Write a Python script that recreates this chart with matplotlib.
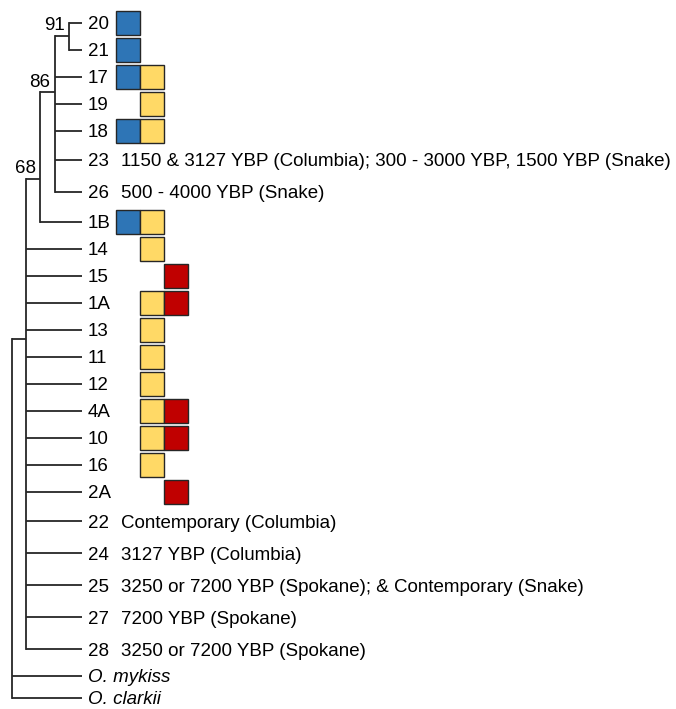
import matplotlib.pyplot as plt
from matplotlib.patches import Rectangle

plt.rcParams["font.family"] = ["Liberation Sans", "DejaVu Sans"]

# tips, top to bottom
TIPS = ["20", "21", "17", "19", "18", "23", "26", "1B", "14", "15", "1A",
        "13", "11", "12", "4A", "10", "16", "2A", "22", "24", "25", "27",
        "28", "O. mykiss", "O. clarkii"]
OUTGROUPS = ["O. mykiss", "O. clarkii"]

# presence columns
BLUE = ["20", "21", "17", "18", "1B"]
YELLOW = ["17", "19", "18", "1B", "14", "1A", "13", "11", "12", "4A", "10", "16"]
RED = ["15", "1A", "4A", "10", "2A"]

NOTES = {
    "23": "1150 & 3127 YBP (Columbia); 300 - 3000 YBP, 1500 YBP (Snake)",
    "26": "500 - 4000 YBP (Snake)",
    "22": "Contemporary (Columbia)",
    "24": "3127 YBP (Columbia)",
    "25": "3250 or 7200 YBP (Spokane); & Contemporary (Snake)",
    "27": "7200 YBP (Spokane)",
    "28": "3250 or 7200 YBP (Spokane)",
}

# topology: (name, support, children)
N91 = ("n91", "91", ["20", "21"])
N86 = ("n86", "86", [N91, "17", "19", "18", "23", "26"])
N68 = ("n68", "68", [N86, "1B"])
POLY = ("poly", None, [N68, "14", "15", "1A", "13", "11", "12", "4A", "10",
                       "16", "2A", "22", "24", "25", "27", "28"])
ROOT = ("root", None, [POLY, "O. mykiss", "O. clarkii"])

# layout (pixel units)
W, H = 676, 709
X0, STEP, TIP_X = 12, 14.2, 82
ATTACH = {"n91": 0.5, "n86": 0.36, "n68": 0.67, "poly": 0.34, "root": 0.5}
ROW_H = {"note": 32, "box": 27, "out": 22}
TOP = 9
BOX_X0, BOX_W, BOX_H = 116, 24, 24
LINE = "#262626"
FS = 13.5


def row_kind(t):
    if t in OUTGROUPS:
        return "out"
    if t in NOTES:
        return "note"
    return "box"


row_y = {}
y = TOP
for t in TIPS:
    h = ROW_H[row_kind(t)]
    row_y[t] = y + h / 2
    y += h

fig = plt.figure(figsize=(W / 100, H / 100), dpi=100)
ax = fig.add_axes([0, 0, 1, 1])
ax.set_xlim(0, W)
ax.set_ylim(H, 0)
ax.axis("off")


def draw(node, depth):
    if isinstance(node, str):
        return row_y[node], TIP_X
    name, support, children = node
    x = X0 + STEP * depth
    ys = []
    for c in children:
        cy, cx = draw(c, depth + 1)
        ax.plot([x, cx], [cy, cy], color=LINE, lw=1.3, solid_capstyle="butt")
        ys.append(cy)
    ax.plot([x, x], [min(ys), max(ys)], color=LINE, lw=1.3, solid_capstyle="projecting")
    a = min(ys) + ATTACH[name] * (max(ys) - min(ys))
    if support:
        ax.text(x - 4, a - 12, support, ha="right", va="center_baseline", fontsize=FS)
    return a, x


draw(ROOT, 0)

for t in TIPS:
    ty = row_y[t]
    if t in OUTGROUPS:
        ax.text(TIP_X + 6, ty, t, ha="left", va="center_baseline", fontsize=FS, style="italic")
        continue
    ax.text(TIP_X + 6, ty, t, ha="left", va="center_baseline", fontsize=FS)
    if t in NOTES:
        ax.text(BOX_X0 + 5, ty, NOTES[t], ha="left", va="center_baseline", fontsize=FS)
    for col, (members, color) in enumerate([(BLUE, "#2E75B6"), (YELLOW, "#FFD966"), (RED, "#C00000")]):
        if t in members:
            ax.add_patch(Rectangle((BOX_X0 + col * BOX_W, ty - BOX_H / 2), BOX_W, BOX_H,
                                   facecolor=color, edgecolor=LINE, lw=1.0))

fig.savefig("out.png", dpi=100)
